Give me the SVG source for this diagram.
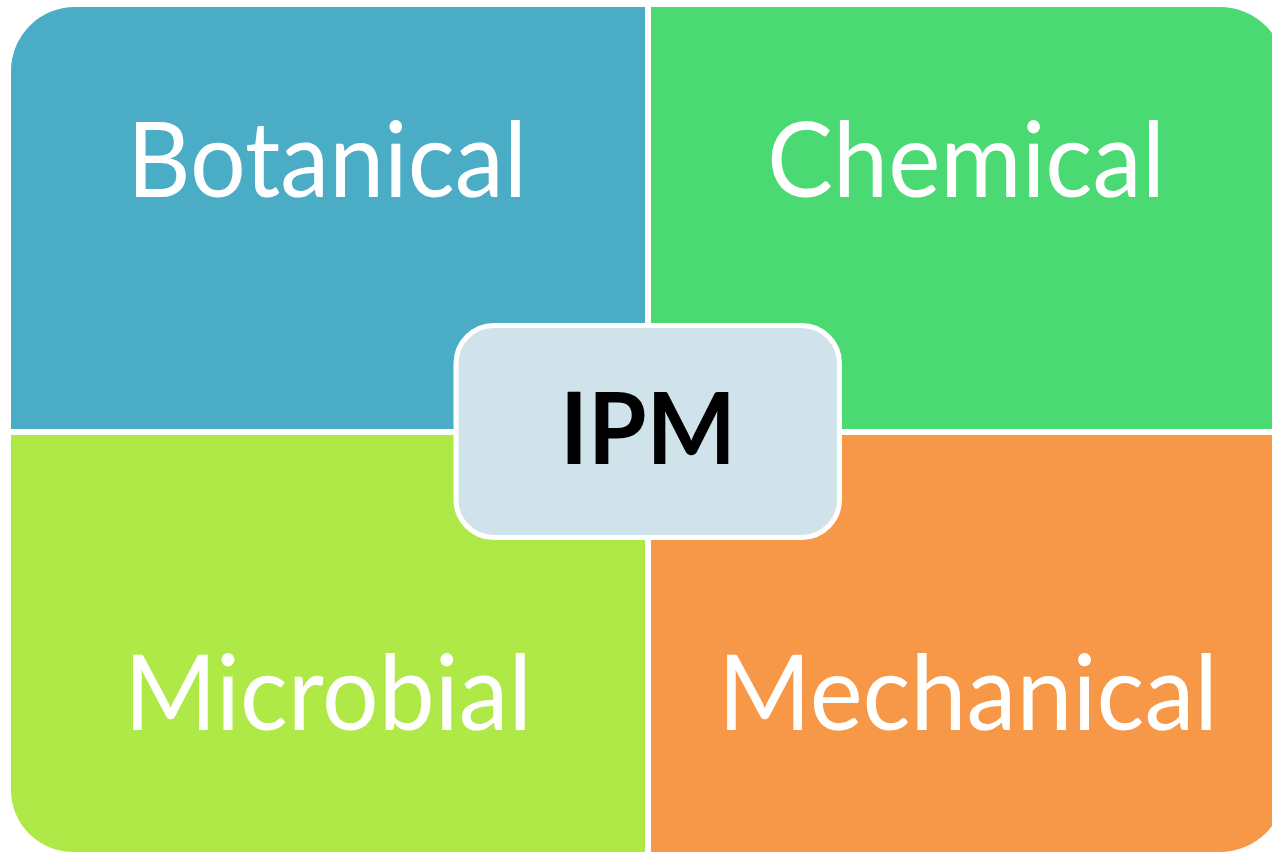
<svg xmlns="http://www.w3.org/2000/svg" width="1272" height="853" viewBox="0 0 1272 853">
  <style>
    .label { font-family: Lato, "Open Sans", "Liberation Sans", sans-serif; font-size: 104px; fill: #ffffff; text-anchor: middle; }
    .hub { font-family: Lato, "Open Sans", "Liberation Sans", sans-serif; font-size: 100px; font-weight: bold; fill: #000000; text-anchor: middle; }
  </style>
  <rect width="1272" height="853" fill="#ffffff"/>

  <!-- four quadrants, outer corners rounded -->
  <g id="botanical">
    <path d="M11,429 V71 A64,64 0 0 1 75,7 H645 V429 Z" fill="#4BACC6"/>
    <text class="label" x="327" y="197" textLength="400" lengthAdjust="spacingAndGlyphs">Botanical</text>
  </g>
  <g id="chemical">
    <path d="M651,7 H1220 A65,65 0 0 1 1285,72 V429 H651 Z" fill="#4AD973"/>
    <text class="label" x="966" y="197" textLength="398" lengthAdjust="spacingAndGlyphs">Chemical</text>
  </g>
  <g id="microbial">
    <path d="M11,435 H645 V852 H73 A62,62 0 0 1 11,790 Z" fill="#AEE947"/>
    <text class="label" x="328" y="730" textLength="408" lengthAdjust="spacingAndGlyphs">Microbial</text>
  </g>
  <g id="mechanical">
    <path d="M651,435 H1285 V787 A65,65 0 0 1 1220,852 H651 Z" fill="#F79748"/>
    <text class="label" x="968" y="730" textLength="500" lengthAdjust="spacingAndGlyphs">Mechanical</text>
  </g>

  <!-- central hub -->
  <g id="ipm">
    <rect x="456" y="325.5" width="383.5" height="212" rx="38" ry="38" fill="#D0E3EA" stroke="#ffffff" stroke-width="5"/>
    <text class="hub" x="648" y="464" textLength="176" lengthAdjust="spacingAndGlyphs">IPM</text>
  </g>

  <g id="connectors"></g>
</svg>
